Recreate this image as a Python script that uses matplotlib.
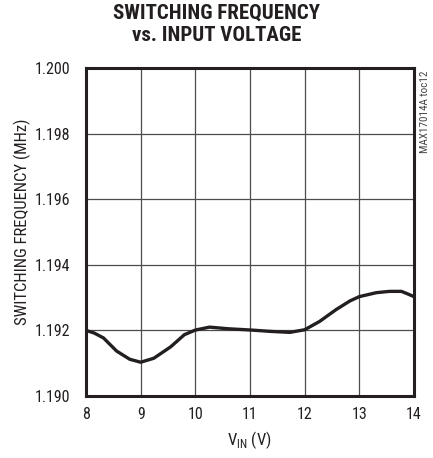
import numpy as np
import matplotlib
matplotlib.use('Agg')
import matplotlib.pyplot as plt

# condensed sans, close to the datasheet Helvetica Condensed look
plt.rcParams['font.family'] = ['Roboto Condensed', 'DejaVu Sans']

# data
vin = [8.0, 8.15, 8.32, 8.56, 8.8, 9.0, 9.24, 9.55, 9.8, 10.0, 10.26, 10.6,
       11.03, 11.37, 11.73, 12.0, 12.27, 12.58, 12.83, 13.0, 13.31, 13.55,
       13.77, 13.86, 14.0]
freq = [1.19200, 1.19192, 1.19177, 1.19137, 1.19112, 1.19103, 1.19115, 1.19150,
        1.19187, 1.19201, 1.19210, 1.19205, 1.19201, 1.19197, 1.19194, 1.19202,
        1.19227, 1.19264, 1.19290, 1.19303, 1.19315, 1.19319, 1.19319, 1.19313,
        1.19303]

xticks = [8, 9, 10, 11, 12, 13, 14]
yticks = [1.190, 1.192, 1.194, 1.196, 1.198, 1.200]

ink = '#231f20'

fig = plt.figure(figsize=(4.33, 4.58), dpi=100)
ax = fig.add_axes([0.1986, 0.1354, 0.7575, 0.716])

ax.plot(vin, freq, color=ink, linewidth=2.4, zorder=3,
        solid_joinstyle='round', solid_capstyle='round')

ax.set_xlim(8, 14)
ax.set_ylim(1.190, 1.200)
ax.set_xticks(xticks)
ax.set_xticklabels([str(t) for t in xticks])
ax.set_yticks(yticks)
ax.set_yticklabels(['%.3f' % t for t in yticks])
ax.tick_params(length=0, labelsize=11.5, colors=ink)
ax.tick_params(axis='x', pad=8)
ax.tick_params(axis='y', pad=11)
ax.grid(True, color='#4d4d4d', linewidth=0.9)

for s in ax.spines.values():
    s.set_linewidth(2.2)
    s.set_color(ink)

ax.set_xlabel('V$_{\\mathregular{IN}}$ (V)', fontsize=12, color=ink, va='center')
ax.xaxis.set_label_coords(0.498, -0.134)
ax.set_ylabel('SWITCHING FREQUENCY (MHz)', fontsize=12, color=ink, va='center')
ax.yaxis.set_label_coords(-0.195, 0.532)

fig.text(0.5, 0.992, 'SWITCHING FREQUENCY\nvs. INPUT VOLTAGE', ha='center', va='top',
         fontsize=15, fontweight='black', color=ink, linespacing=1.2)
fig.text(0.982, 0.755, 'MAX17014A toc12', rotation=90, ha='center', va='center',
         fontsize=8, color='#444444')

fig.savefig('out.png', dpi=100)
